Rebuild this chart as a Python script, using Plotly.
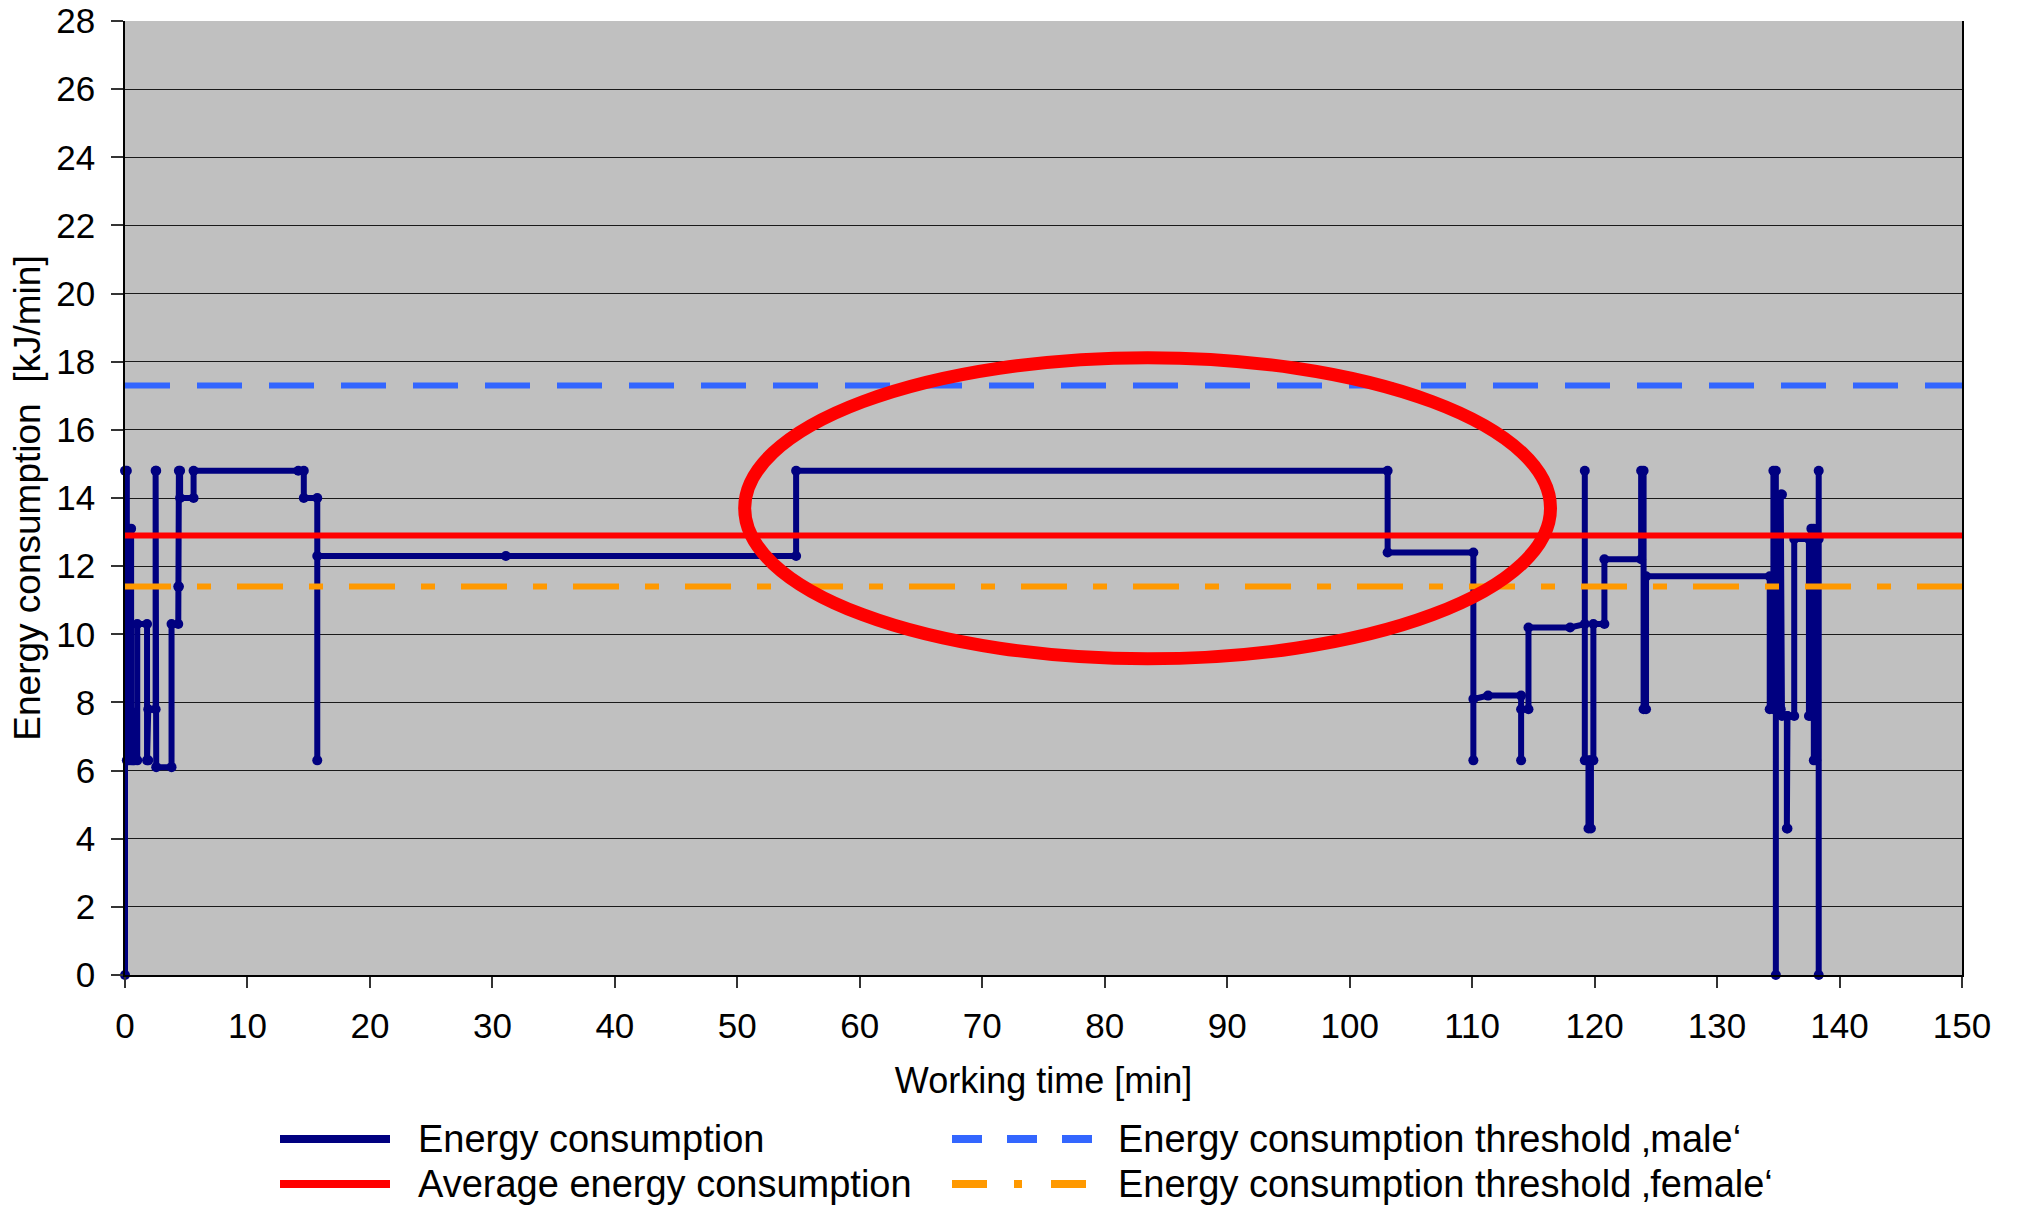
import plotly.graph_objects as go

# Working time [min] and energy consumption [kJ/min] of the step profile
time_min = [
    0, 0, 0.15, 0.15, 0.3, 0.3, 0.5, 0.5, 0.65, 0.65, 0.75, 0.75, 1.0, 1.0,
    1.8, 1.8, 1.9, 1.9, 2.5, 2.5, 2.55, 2.55, 3.8, 3.8, 4.35, 4.35, 4.4, 4.4,
    4.5, 4.5, 5.6, 5.6, 14.15, 14.6, 14.6, 15.7, 15.7, 15.7, 31.1, 54.8, 54.8,
    103.1, 103.1, 110.1, 110.1, 110.1, 111.3, 114.0, 114.0, 114.0, 114.6,
    114.6, 118.0, 119.2, 119.2, 119.2, 119.5, 119.5, 119.7, 119.7, 119.9,
    119.9, 120.8, 120.8, 123.8, 123.8, 124.0, 124.0, 124.2, 124.2, 134.3,
    134.3, 134.6, 134.6, 134.8, 134.8, 134.8, 135.2, 135.2, 135.3, 135.3,
    135.7, 135.7, 135.75, 135.75, 136.3, 136.3, 137.5, 137.5, 137.7, 137.7,
    137.9, 137.9, 138.1, 138.1, 138.3, 138.3, 138.3,
]
energy_kj = [
    0, 14.8, 14.8, 6.3, 6.3, 13.1, 13.1, 6.3, 6.3, 7.7, 7.7, 6.3, 6.3, 10.3,
    10.3, 6.3, 6.3, 7.8, 7.8, 14.8, 14.8, 6.1, 6.1, 10.3, 10.3, 11.4, 11.4, 14.8,
    14.8, 14.0, 14.0, 14.8, 14.8, 14.8, 14.0, 14.0, 6.3, 12.3, 12.3, 12.3, 14.8,
    14.8, 12.4, 12.4, 6.3, 8.1, 8.2, 8.2, 6.3, 7.8, 7.8,
    10.2, 10.2, 10.3, 14.8, 6.3, 6.3, 4.3, 4.3, 6.3, 6.3,
    10.3, 10.3, 12.2, 12.2, 14.8, 14.8, 7.8, 7.8, 11.7, 11.7,
    7.8, 7.8, 14.8, 14.8, 0, 7.8, 7.8, 14.1, 14.1, 7.6,
    7.6, 4.3, 4.3, 7.6, 7.6, 12.8, 12.8, 7.6, 7.6, 13.1,
    13.1, 6.3, 6.3, 12.8, 12.8, 14.8, 0,
]

avg_energy = 12.9
male_threshold = 17.3
female_threshold = 11.4
time_span = [0, 150]

x_ticks = list(range(0, 151, 10))
y_ticks = list(range(0, 29, 2))

# Highlighted working phase (ellipse bounds in data units)
focus_x = [50.6, 116.4]
focus_y = [9.28, 18.12]

NAVY = "#000080"
RED = "#FF0000"
BLUE = "#3366FF"
ORANGE = "#FF9900"
FONT = "Liberation Sans, Arial, sans-serif"

W, H = 2018, 1207
ML, MR, MT, MB = 125, 56, 21, 232
PW, PH = W - ML - MR, H - MT - MB


def px_x(px):
    return (px - ML) / PW


def px_y(py):
    return (H - MB - py) / PH


fig = go.Figure()

fig.add_trace(go.Scatter(
    x=time_min, y=energy_kj, name="Energy consumption",
    mode="lines+markers",
    line=dict(color=NAVY, width=6),
    marker=dict(color=NAVY, size=10, symbol="circle"),
    cliponaxis=False, showlegend=False,
))
fig.add_trace(go.Scatter(
    x=time_span, y=[male_threshold] * 2, name="Energy consumption threshold ‚male‘",
    mode="lines", line=dict(color=BLUE, width=6, dash="45px,27px"),
    showlegend=False,
))
fig.add_trace(go.Scatter(
    x=time_span, y=[female_threshold] * 2, name="Energy consumption threshold ‚female‘",
    mode="lines", line=dict(color=ORANGE, width=6, dash="46px,26px,14px,26px"),
    showlegend=False,
))
fig.add_trace(go.Scatter(
    x=time_span, y=[avg_energy] * 2, name="Average energy consumption",
    mode="lines", line=dict(color=RED, width=6),
    showlegend=False,
))

shapes = [
    dict(type="circle", xref="x", yref="y",
         x0=focus_x[0], x1=focus_x[1], y0=focus_y[0], y1=focus_y[1],
         line=dict(color=RED, width=13), layer="above"),
]

# Legend: two columns below the plot
legend_items = [
    ("Energy consumption", NAVY, "solid", 280, 390, 416, 1139),
    ("Average energy consumption", RED, "solid", 280, 390, 416, 1184),
    ("Energy consumption threshold ‚male‘", BLUE, "30px,25px", 952, 1098, 1116, 1139),
    ("Energy consumption threshold ‚female‘", ORANGE, "35px,27px,8px,29px", 952, 1098, 1116, 1184),
]
annotations = []
for label, color, dash, sx0, sx1, tx, ty in legend_items:
    shapes.append(dict(
        type="line", xref="paper", yref="paper",
        x0=px_x(sx0), x1=px_x(sx1), y0=px_y(ty), y1=px_y(ty),
        line=dict(color=color, width=8, dash=dash),
    ))
    annotations.append(dict(
        text=label, xref="paper", yref="paper", x=px_x(tx), y=px_y(ty),
        xanchor="left", yanchor="middle", showarrow=False,
        font=dict(family=FONT, size=38, color="black"),
    ))

fig.update_layout(
    width=W, height=H,
    margin=dict(l=ML, r=MR, t=MT, b=MB, autoexpand=False),
    paper_bgcolor="white",
    plot_bgcolor="#C0C0C0",
    font=dict(family=FONT, size=35, color="black"),
    shapes=shapes,
    annotations=annotations,
    showlegend=False,
)

fig.update_xaxes(
    range=[0, 150], tickvals=x_ticks, ticktext=[str(v) for v in x_ticks],
    showgrid=False, zeroline=False,
    showline=True, linecolor="black", linewidth=1.5, mirror=False,
    ticks="outside", ticklen=11, tickwidth=1.5, tickcolor="#333333",
    ticklabelstandoff=8,
    tickfont=dict(family=FONT, size=35, color="black"),
    title=dict(text="Working time [min]", font=dict(family=FONT, size=36, color="black"), standoff=24),
    automargin=False,
)
fig.update_yaxes(
    range=[0, 28], tickvals=y_ticks, ticktext=[str(v) for v in y_ticks],
    showgrid=True, gridcolor="#1a1a1a", gridwidth=1.2, zeroline=False,
    showline=True, linecolor="black", linewidth=1.5, mirror=True,
    ticks="outside", ticklen=12, tickwidth=1.5, tickcolor="#333333",
    ticklabelstandoff=9,
    tickfont=dict(family=FONT, size=35, color="black"),
    title=dict(text="Energy consumption\u00a0 [kJ/min]", font=dict(family=FONT, size=37, color="black"), standoff=4),
    automargin=False,
)

fig.write_html("out.html")
